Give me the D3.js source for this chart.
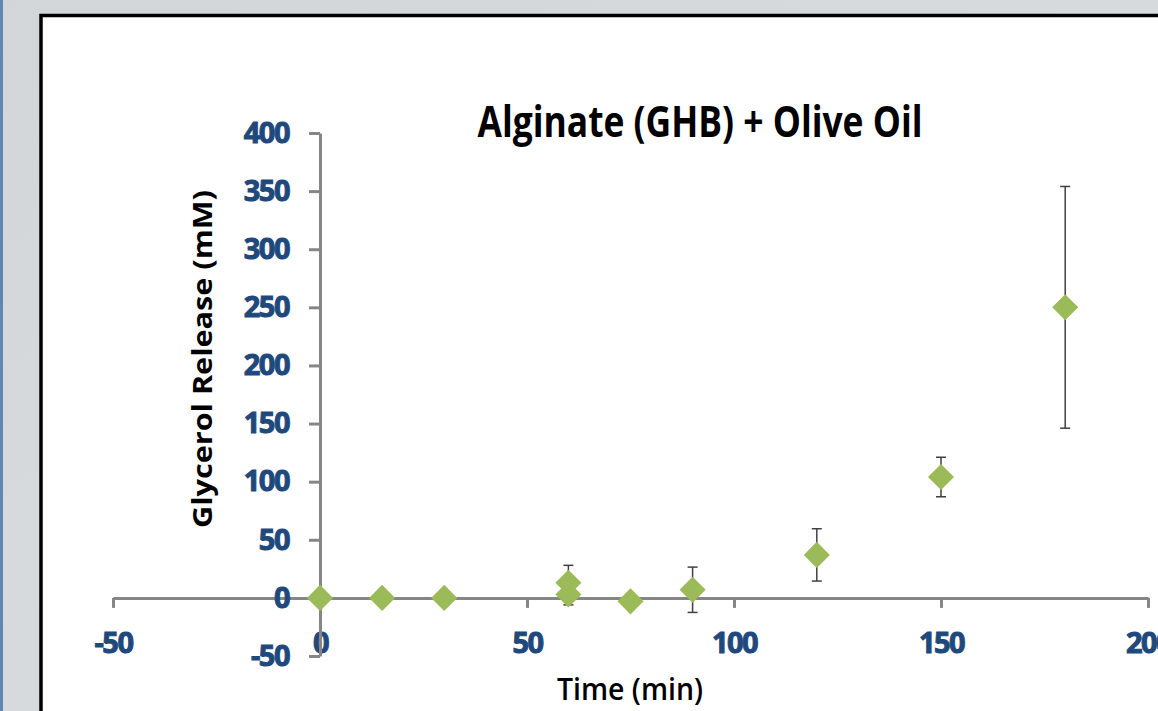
<!DOCTYPE html>
<html>
<head>
<meta charset="utf-8">
<script src="https://cdn.jsdelivr.net/npm/d3@7"></script>
<style>
  html, body { margin: 0; padding: 0; background: #d5d8da; }
  svg { display: block; }
</style>
</head>
<body>
<div id="chart"></div>
<script>
// Alginate (GHB) + Olive Oil — glycerol release over time, with error bars

const timeMin  = [0, 15, 30, 60, 60, 75, 90, 120, 150, 180];
const glycerol = [0, 0, 0, 13, 3, -3, 7, 37, 104, 250];
const errorMM  = [0, 0, 0, 15, 9, 5, 19.5, 22.5, 17, 104];

const xTicks = [-50, 0, 50, 100, 150, 200];
const yTicks = [-50, 0, 50, 100, 150, 200, 250, 300, 350, 400];

const W = 1158, H = 711;
const AXIS = "#868686", TICKTXT = "#1f497d", GREEN = "#9bbb59", ERR = "#404040";

const svg = d3.select("#chart").append("svg").attr("width", W).attr("height", H);

// Hintergrund (Folie) + weißes Panel mit schwarzem Rahmen
const bg = svg.append("defs").append("linearGradient").attr("id", "bg")
  .attr("x1", 0).attr("y1", 0).attr("x2", 1).attr("y2", 1);
bg.append("stop").attr("offset", "0%").attr("stop-color", "#d3d6d8");
bg.append("stop").attr("offset", "100%").attr("stop-color", "#dcdfe1");
svg.append("rect").attr("width", W).attr("height", H).attr("fill", "url(#bg)");
svg.append("rect").attr("x", 0).attr("y", 0).attr("width", 3).attr("height", H).attr("fill", "#5f87b3");
svg.append("rect")
  .attr("x", 41).attr("y", 15.5).attr("width", W + 20).attr("height", H + 20)
  .attr("fill", "#fff").attr("stroke", "#000").attr("stroke-width", 3.5);

const x = d3.scaleLinear().domain([-50, 200]).range([113, 1148]);
const y = d3.scaleLinear().domain([-50, 400]).range([656, 133]);

const font = "'Open Sans', 'Liberation Sans', sans-serif";
const fmt = d => String(d); // normaler Bindestrich statt Unicode-Minus

// Achsen (Excel-Stil: kreuzen sich im Nullpunkt)
const gx = svg.append("g").attr("transform", `translate(0,${y(0)})`)
  .call(d3.axisBottom(x).tickValues(xTicks).tickFormat(fmt).tickSize(10).tickSizeOuter(0).tickPadding(25));
const gy = svg.append("g").attr("transform", `translate(${x(0)},0)`)
  .call(d3.axisLeft(y).tickValues(yTicks).tickFormat(fmt).tickSize(11).tickSizeOuter(0).tickPadding(20));

[gx, gy].forEach(g => {
  g.select(".domain").attr("stroke", AXIS).attr("stroke-width", 3);
  g.selectAll(".tick line").attr("stroke", AXIS).attr("stroke-width", 3);
  g.selectAll(".tick text")
    .attr("fill", TICKTXT).attr("stroke", TICKTXT).attr("stroke-width", 1)
    .style("font-family", font).style("font-weight", 700)
    .style("font-size", "29px").style("letter-spacing", "-1.5px");
});

// Fehlerbalken
const pts = timeMin.map((t, i) => ({ t, v: glycerol[i], e: errorMM[i] }));
const gErr = svg.append("g").attr("stroke", ERR).attr("stroke-width", 1.5);
pts.filter(d => d.e > 0).forEach(d => {
  const cx = x(d.t);
  gErr.append("line").attr("x1", cx).attr("x2", cx)
    .attr("y1", y(d.v + d.e)).attr("y2", y(d.v - d.e));
  [d.v + d.e, d.v - d.e].forEach(v => {
    gErr.append("line").attr("x1", cx - 5).attr("x2", cx + 5)
      .attr("y1", y(v)).attr("y2", y(v));
  });
});

// Rauten
const diamond = d3.symbol().type(d3.symbolSquare).size(340)();
svg.append("g").selectAll("path").data(pts).join("path")
  .attr("d", diamond)
  .attr("transform", d => `translate(${x(d.t)},${y(d.v)}) rotate(45)`)
  .attr("fill", GREEN);

// Titel und Achsentitel
svg.append("text")
  .attr("x", 700).attr("y", 137).attr("text-anchor", "middle")
  .attr("textLength", 445).attr("lengthAdjust", "spacingAndGlyphs")
  .style("font-family", font).style("font-weight", 700).style("font-size", "43px")
  .text("Alginate (GHB) + Olive Oil");

svg.append("text")
  .attr("transform", "translate(212,359) rotate(-90)").attr("text-anchor", "middle")
  .attr("textLength", 338).attr("lengthAdjust", "spacingAndGlyphs")
  .style("font-family", font).style("font-weight", 700).style("font-size", "26px")
  .text("Glycerol Release (mM)");

svg.append("text")
  .attr("x", 630).attr("y", 700).attr("text-anchor", "middle")
  .attr("textLength", 146).attr("lengthAdjust", "spacingAndGlyphs")
  .style("font-family", font).style("font-weight", 600).style("font-size", "31px")
  .text("Time (min)");
</script>
</body>
</html>
